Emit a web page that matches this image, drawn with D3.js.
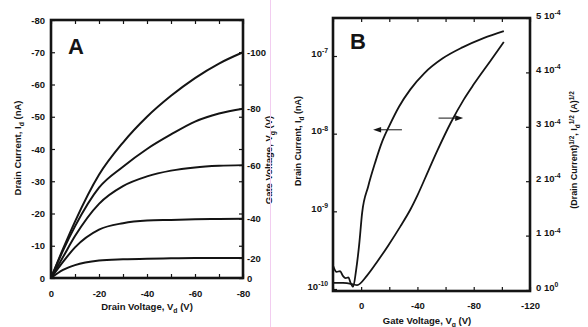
<!DOCTYPE html>
<html><head><meta charset="utf-8">
<script src="https://cdn.jsdelivr.net/npm/d3@7"></script>
<style>
html,body{margin:0;padding:0;background:#fff;}
svg{display:block;font-family:"Liberation Sans",Arial,sans-serif;font-weight:bold;}
</style></head><body>
<svg id="fig" width="588" height="327"></svg>
<script>
// ---------- Panel A: output characteristics, I_d vs V_d ----------
const drainVoltage = [0, -5, -10, -20, -30, -40, -50, -60, -70, -80];
const gateVoltagesA = [-20, -40, -60, -80, -100];
const idVg20  = [0, -2.5, -4.0, -5.4, -5.8, -6.0, -6.1, -6.2, -6.2, -6.2];
const idVg40  = [0, -5.0, -9.5, -15.0, -17.0, -17.8, -18.0, -18.2, -18.3, -18.4];
const idVg60  = [0, -6.5, -13.0, -23.0, -28.5, -31.5, -33.3, -34.3, -34.8, -35.0];
const idVg80  = [0, -8.5, -16.0, -28.0, -34.5, -40.0, -44.5, -48.5, -51.0, -52.5];
const idVg100 = [0, -9.0, -17.5, -32.0, -42.0, -50.0, -56.5, -62.0, -66.5, -70.0];
const currentTicksA = [0, -10, -20, -30, -40, -50, -60, -70, -80];
const drainTicksA = [0, -10, -20, -30, -40, -50, -60, -70, -80];

// ---------- Panel B: transfer characteristics ----------
const gateVoltageLog = [20, 17.5, 15, 13, 11, 9, 7.5, 5.7, 3.6, 1.4, -0.7, -5, -10, -15, -20, -27, -35, -45, -58, -72, -87, -101.4];
const drainCurrentLog = [2.0e-10, 1.66e-10, 1.70e-10, 1.48e-10, 1.38e-10, 1.41e-10, 1.20e-10, 1.07e-10, 1.74e-10, 3.72e-10, 9.55e-10, 2.09e-9, 4.27e-9, 7.94e-9, 1.26e-8, 2.24e-8, 3.72e-8, 6.03e-8, 9.33e-8, 1.29e-7, 1.70e-7, 2.09e-7];
const gateVoltageSqrt = [20, 12.9, 6.4, 2.9, -4.3, -11.4, -19.3, -27.9, -35, -40, -47.9, -54.3, -63.6, -72.9, -80, -92.1, -101.4];
const sqrtCurrent = [0.13, 0.13, 0.11, 0.09, 0.27, 0.52, 0.82, 1.17, 1.48, 1.74, 2.20, 2.57, 3.07, 3.50, 3.78, 4.22, 4.56]; // x 1e-4 A^1/2
const gateTicksB = [20, 0, -20, -40, -60, -80, -100, -120];
const gateLabelsB = [0, -40, -80, -120];
const logTicksB = [1e-10, 1e-9, 1e-8, 1e-7];
const sqrtTicksB = [0, 1, 2, 3, 4, 5];

const svg = d3.select("#fig");
const ink = "#141414";
const tickFont = 9.5;

// rich text helper: parts = [[text, "sub"|"sup"|null], ...]
function rich(sel, parts, size) {
  let shift = 0;
  parts.forEach(([t, kind]) => {
    const target = kind === "sub" ? 2.5 : kind === "sup" ? -3.5 : 0;
    sel.append("tspan")
      .attr("dy", target - shift)
      .attr("font-size", kind ? size * 0.72 : size)
      .text(t);
    shift = target;
  });
}

function styleAxis(g) {
  g.select(".domain").remove();
  g.selectAll(".tick line").attr("stroke", ink).attr("stroke-width", 1.2);
  g.selectAll(".tick text").attr("fill", ink).attr("font-size", tickFont)
    .attr("font-family", null).attr("font-weight", "bold");
  g.attr("font-family", null).attr("font-size", null);
}

// ================= Panel A =================
const xA = d3.scaleLinear().domain([0, -80]).range([51, 243]);
const yA = d3.scaleLinear().domain([0, -80]).range([278, 20]);
const gA = svg.append("g");

gA.append("g").attr("transform", `translate(${xA.range()[0]},0)`)
  .call(d3.axisLeft(yA).tickValues(currentTicksA).tickSize(-4).tickPadding(6).tickFormat(d => String(d)))
  .call(styleAxis);
gA.append("g").attr("transform", `translate(0,${yA.range()[0]})`)
  .call(d3.axisBottom(xA).tickValues(drainTicksA).tickSize(-4).tickPadding(12)
    .tickFormat(d => d % 20 === 0 ? String(d) : ""))
  .call(styleAxis);
gA.append("g").attr("transform", `translate(0,${yA.range()[1]})`)
  .call(d3.axisTop(xA).tickValues(drainTicksA).tickSize(-4).tickFormat(""))
  .call(styleAxis);
// right axis: minor ticks every 10 nA, labelled ticks at each curve's end
gA.append("g").attr("transform", `translate(${xA.range()[1]},0)`)
  .call(d3.axisRight(yA).tickValues(currentTicksA).tickSize(-4).tickFormat(""))
  .call(styleAxis);

const seriesA = [idVg20, idVg40, idVg60, idVg80, idVg100];
const endVals = [0].concat(seriesA.map(s => s[s.length - 1]));
const endLabels = [0].concat(gateVoltagesA);
gA.append("g").attr("transform", `translate(${xA.range()[1]},0)`)
  .call(d3.axisRight(yA).tickValues(endVals).tickSize(-4).tickPadding(4)
    .tickFormat((d, i) => String(endLabels[i])))
  .call(styleAxis);

const lineA = d3.line().x((d, i) => xA(drainVoltage[i])).y(d => yA(d)).curve(d3.curveMonotoneX);
gA.selectAll("path.curve").data(seriesA).join("path").attr("class", "curve")
  .attr("d", lineA).attr("fill", "none").attr("stroke", ink).attr("stroke-width", 2);

gA.append("rect")
  .attr("x", xA.range()[0]).attr("y", yA.range()[1])
  .attr("width", xA.range()[1] - xA.range()[0]).attr("height", yA.range()[0] - yA.range()[1])
  .attr("fill", "none").attr("stroke", ink).attr("stroke-width", 2.6);

gA.append("text").attr("x", 68).attr("y", 54).attr("font-size", 22).attr("fill", ink).text("A");

rich(gA.append("text").attr("text-anchor", "middle").attr("fill", ink)
  .attr("transform", "translate(21,148) rotate(-90)"),
  [["Drain Current, I", null], ["d", "sub"], [" (nA)", null]], 9.5);
rich(gA.append("text").attr("text-anchor", "middle").attr("fill", ink)
  .attr("x", 147).attr("y", 310),
  [["Drain Voltage, V", null], ["d", "sub"], [" (V)", null]], 9.5);
rich(gA.append("text").attr("text-anchor", "middle").attr("fill", ink)
  .attr("transform", "translate(272,160) rotate(-90)"),
  [["Gate Voltage, V", null], ["g", "sub"], [" (V)", null]], 9.5);

// faint divider between panels
svg.append("line").attr("x1", 270.5).attr("x2", 270.5).attr("y1", 0).attr("y2", 327)
  .attr("stroke", "#f2cdf0").attr("stroke-width", 1);

// ================= Panel B =================
const boxB = { left: 333, right: 530, top: 18, bottom: 291 };
const xB = d3.scaleLinear().domain([20, -120]).range([boxB.left, boxB.right]);
const yLog = d3.scaleLog().domain([1e-10, 1e-7]).range([289, 56]);
const ySqrt = d3.scaleLinear().domain([0, 5]).range([290, 18]);
const gB = svg.append("g");

const lx = gB.append("g").attr("transform", `translate(${boxB.left},0)`)
  .call(d3.axisLeft(yLog).tickValues(logTicksB).tickSize(-4).tickPadding(5).tickFormat(""))
  .call(styleAxis);
lx.selectAll(".tick text").each(function (d) {
  rich(d3.select(this), [["10", null], [String(Math.round(Math.log10(d))), "sup"]], tickFont);
});

gB.append("g").attr("transform", `translate(0,${boxB.bottom})`)
  .call(d3.axisBottom(xB).tickValues(gateTicksB).tickSize(-4).tickPadding(11)
    .tickFormat(d => gateLabelsB.includes(d) ? String(d) : ""))
  .call(styleAxis);
gB.append("g").attr("transform", `translate(0,${boxB.top})`)
  .call(d3.axisTop(xB).tickValues(gateTicksB).tickSize(-4).tickFormat(""))
  .call(styleAxis);

const rx = gB.append("g").attr("transform", `translate(${boxB.right},0)`)
  .call(d3.axisRight(ySqrt).tickValues(sqrtTicksB).tickSize(-4).tickPadding(6).tickFormat(""))
  .call(styleAxis);
rx.selectAll(".tick text").each(function (d) {
  rich(d3.select(this), [[d + " 10", null], [d === 0 ? "0" : "-4", "sup"]], tickFont);
});

const lineLog = d3.line().x((d, i) => xB(gateVoltageLog[i])).y(d => yLog(d)).curve(d3.curveMonotoneX);
const lineSqrt = d3.line().x((d, i) => xB(gateVoltageSqrt[i])).y(d => ySqrt(d)).curve(d3.curveMonotoneX);
gB.append("path").attr("d", lineLog(drainCurrentLog)).attr("fill", "none").attr("stroke", ink).attr("stroke-width", 1.8);
gB.append("path").attr("d", lineSqrt(sqrtCurrent)).attr("fill", "none").attr("stroke", ink).attr("stroke-width", 1.8);

// arrows pointing each curve to its axis
function arrow(x1, x2, y) {
  const dir = Math.sign(x2 - x1);
  gB.append("line").attr("x1", x1).attr("x2", x2 - dir * 5).attr("y1", y).attr("y2", y)
    .attr("stroke", ink).attr("stroke-width", 1);
  gB.append("path").attr("fill", ink)
    .attr("d", `M${x2},${y} L${x2 - dir * 8},${y - 2.8} L${x2 - dir * 8},${y + 2.8} Z`);
}
arrow(xB(-29), xB(-8.5), yLog(Math.pow(10, -7.95)));
arrow(xB(-55), xB(-72.5), ySqrt(3.16));

gB.append("rect")
  .attr("x", boxB.left).attr("y", boxB.top)
  .attr("width", boxB.right - boxB.left).attr("height", boxB.bottom - boxB.top)
  .attr("fill", "none").attr("stroke", ink).attr("stroke-width", 2.6);

gB.append("text").attr("x", 350).attr("y", 49).attr("font-size", 22).attr("fill", ink).text("B");

rich(gB.append("text").attr("text-anchor", "middle").attr("fill", ink)
  .attr("transform", "translate(301,141) rotate(-90)"),
  [["Drain Current, I", null], ["d", "sub"], [" (nA)", null]], 9);
rich(gB.append("text").attr("text-anchor", "middle").attr("fill", ink)
  .attr("x", 427).attr("y", 324),
  [["Gate Voltage, V", null], ["g", "sub"], [" (V)", null]], 9.5);
rich(gB.append("text").attr("text-anchor", "middle").attr("fill", ink)
  .attr("transform", "translate(577,150) rotate(-90)"),
  [["(Drain Current)", null], ["1/2", "sup"], [", I", null], ["d", "sub"], ["1/2", "sup"], [" (A)", null], ["1/2", "sup"]], 9);
</script>
</body></html>
